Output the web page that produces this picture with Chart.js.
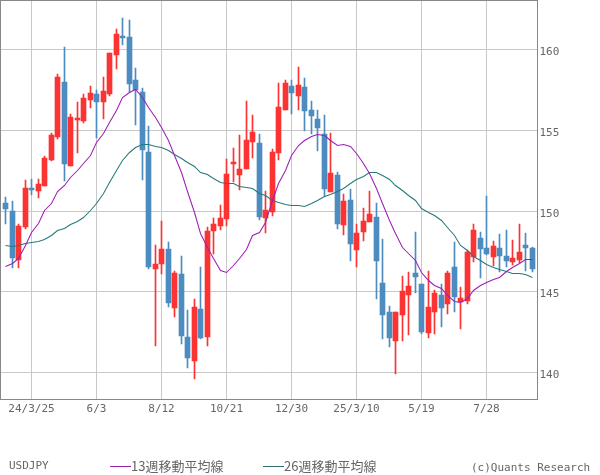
<!DOCTYPE html>
<html>
<head>
<meta charset="utf-8">
<script src="https://cdn.jsdelivr.net/npm/chart.js@4"></script>
<style>
  html, body { margin: 0; padding: 0; background: #fff; }
  #wrap { position: relative; width: 600px; height: 475px; overflow: hidden; }
  .note { position: absolute; color: #666; white-space: nowrap; font: 11px "DejaVu Sans Mono", monospace; line-height: 14px; }
  .jp { font: 13px "Noto Sans CJK JP", sans-serif; line-height: 16px; }
  .swatch { position: absolute; height: 1px; width: 21px; top: 466px; }
</style>
</head>
<body>
<div id="wrap">
  <canvas id="chart" width="600" height="475"></canvas>
  <span class="note" style="left:9px;top:459px">USDJPY</span>
  <div class="swatch" style="left:110px;background:#8e24aa"></div>
  <span class="note jp" style="left:131px;top:458px">13週移動平均線</span>
  <div class="swatch" style="left:263px;background:#2f6f6f"></div>
  <span class="note jp" style="left:284px;top:458px">26週移動平均線</span>
  <span class="note" style="left:471px;top:461px">(c)Quants Research</span>
</div>
<script>
// ===== DATA =====
const opens = [150.50,150.00,146.97,149.01,151.42,151.24,151.55,153.16,154.58,157.99,152.79,155.63,155.57,156.87,157.24,156.75,157.24,159.66,160.84,160.77,158.11,157.37,153.65,146.41,146.72,147.65,143.99,146.10,142.20,140.71,143.93,142.20,148.76,149.07,149.50,152.91,152.23,152.60,154.27,154.21,149.57,149.94,153.59,156.25,157.74,157.12,157.68,156.25,155.70,154.77,151.18,152.23,149.13,150.68,147.59,148.70,149.32,149.63,145.54,143.75,141.95,143.56,144.80,146.16,145.48,142.45,143.75,144.80,144.24,146.53,144.37,144.43,147.15,148.33,147.71,147.15,147.71,147.21,146.84,146.97,147.89,147.71];
const closes = [150.12,147.09,149.07,151.42,151.30,151.67,153.28,154.71,158.30,152.91,155.82,155.76,157.00,157.31,156.75,157.43,159.78,160.96,160.71,157.86,157.49,153.78,146.53,146.72,147.65,144.30,146.16,142.26,140.90,144.06,142.14,148.76,149.20,149.57,152.29,153.03,152.60,154.40,154.89,149.63,150.06,153.65,156.44,157.93,157.31,157.80,156.19,155.88,155.14,151.36,152.35,149.20,150.62,147.96,148.64,149.38,149.81,146.90,143.56,142.14,143.75,145.05,145.36,145.91,142.51,144.06,144.92,143.99,146.16,144.68,144.61,147.46,148.82,147.65,147.34,147.83,147.21,146.90,147.09,147.46,147.71,146.41];
const highs = [150.87,150.62,149.20,151.92,151.98,151.98,153.41,154.83,158.48,160.16,156.01,156.75,157.24,157.74,157.49,158.30,159.78,161.27,161.95,161.83,158.85,157.62,155.26,147.89,149.38,148.08,146.29,147.21,143.87,144.55,146.53,149.01,149.57,150.37,153.22,153.90,154.71,156.81,155.94,154.77,151.24,153.84,157.93,158.11,158.11,158.92,158.24,156.81,156.25,155.94,154.83,152.42,151.05,151.36,149.20,150.19,151.24,150.50,148.27,144.12,143.75,145.98,146.22,148.70,145.48,146.29,145.11,145.48,146.29,148.08,145.29,147.59,149.20,148.70,150.93,148.14,148.58,148.82,148.20,149.20,148.64,147.77];
const lows = [149.20,146.47,146.47,148.89,150.99,150.81,151.55,153.10,154.46,151.86,152.79,153.59,155.45,156.38,154.52,155.70,157.12,158.79,160.28,157.37,155.33,151.92,146.41,141.64,146.10,144.06,143.44,141.76,140.28,139.60,142.07,141.64,147.34,148.82,149.07,151.80,151.30,152.60,153.28,149.44,148.64,149.69,153.16,156.25,156.01,156.25,154.95,154.77,153.72,150.93,151.18,148.89,148.51,146.90,146.53,148.14,149.32,144.55,142.07,141.58,139.91,141.95,142.32,144.92,142.38,142.14,142.38,142.82,143.62,143.75,142.69,144.24,146.84,145.85,147.28,146.59,146.22,146.53,146.66,146.78,146.29,146.22];
const ma13 = [146.55,146.78,147.09,147.89,148.70,149.26,150.06,150.50,151.24,151.61,152.11,152.54,152.97,153.47,154.27,154.83,155.51,156.25,157.06,157.37,157.55,157.06,156.44,155.82,155.20,154.40,153.47,152.42,151.24,149.94,148.64,147.77,147.09,146.35,146.22,146.66,147.09,147.65,148.51,148.70,149.32,150.68,151.73,152.54,153.47,154.09,154.40,154.64,154.77,154.71,154.40,154.09,154.15,154.02,153.59,152.97,152.35,151.42,150.50,149.44,148.64,147.77,147.40,146.97,146.22,145.73,145.42,145.23,144.80,144.43,144.37,144.61,145.11,145.42,145.60,145.79,145.91,146.29,146.53,146.78,147.03,147.03];
const ma26 = [147.89,147.83,147.89,148.02,148.08,148.14,148.27,148.51,148.82,148.95,149.20,149.38,149.63,150.06,150.50,151.11,151.80,152.54,153.16,153.65,153.96,154.15,154.15,154.02,153.96,153.78,153.53,153.28,153.03,152.79,152.42,152.29,152.04,151.80,151.73,151.73,151.55,151.49,151.42,151.11,150.99,150.68,150.56,150.43,150.37,150.37,150.31,150.50,150.68,150.93,151.05,151.24,151.42,151.73,151.98,152.17,152.42,152.42,152.23,151.98,151.61,151.30,150.99,150.68,150.19,149.94,149.75,149.44,149.01,148.51,147.89,147.59,147.21,146.97,146.72,146.53,146.41,146.29,146.16,146.16,146.10,145.91];
const xTickWeeks = [4, 14, 24, 34, 44, 54, 64, 74];
const xTickLabels = ['24/3/25', '6/3', '8/12', '10/21', '12/30', '25/3/10', '5/19', '7/28'];
const yTicks = [140, 145, 150, 155, 160];

const RED = '#fb3333';
const BLUE = '#4c8cc0';
const Y_MIN = 138.328;
const Y_MAX = 163.034;

// Snap scale pixels to whole device pixels so the candles stay crisp
class SnapX extends Chart.LinearScale {
    getPixelForValue(v) { return Math.floor(super.getPixelForValue(v)) + 0.5; }
}
SnapX.id = 'snapX';
SnapX.defaults = Chart.LinearScale.defaults;
class SnapY extends Chart.LinearScale {
    getPixelForValue(v) { return Math.floor(super.getPixelForValue(v) + 0.1); }
}
SnapY.id = 'snapY';
SnapY.defaults = Chart.LinearScale.defaults;
// the moving averages sit on pixel centres instead of pixel edges
class SnapLineY extends Chart.LinearScale {
    getPixelForValue(v) { return Math.floor(super.getPixelForValue(v) + 0.1) + 0.5; }
}
SnapLineY.id = 'snapLineY';
SnapLineY.defaults = Chart.LinearScale.defaults;
Chart.register(SnapX, SnapY, SnapLineY);

const candleColors = opens.map((o, i) => closes[i] >= o ? RED : BLUE);

// Grey frame around the plot area
const framePlugin = {
    id: 'frame',
    afterDraw(chart) {
        const a = chart.chartArea;
        const ctx = chart.ctx;
        ctx.save();
        ctx.strokeStyle = '#888888';
        ctx.lineWidth = 1;
        ctx.strokeRect(a.left, a.top, a.right - a.left, a.bottom - a.top);
        ctx.restore();
    }
};

const tickFont = { family: '"DejaVu Sans Mono", monospace', size: 11 };

new Chart(document.getElementById('chart'), {
    type: 'bar',
    data: {
        datasets: [
            {
                type: 'line',
                label: '13週移動平均線',
                data: ma13.map((v, i) => ({ x: i, y: v })),
                yAxisID: 'yLine',
                borderColor: '#9c1fb4',
                borderWidth: 1.05,
                pointRadius: 0,
                tension: 0,
                order: 0
            },
            {
                type: 'line',
                label: '26週移動平均線',
                data: ma26.map((v, i) => ({ x: i, y: v })),
                yAxisID: 'yLine',
                borderColor: '#26797a',
                borderWidth: 1.05,
                pointRadius: 0,
                tension: 0,
                order: 0
            },
            {
                label: 'body',
                data: opens.map((o, i) => ({ x: i, y: [o, closes[i]] })),
                backgroundColor: candleColors,
                barThickness: 5,
                grouped: false,
                order: 1
            },
            {
                label: 'wick',
                data: lows.map((l, i) => ({ x: i, y: [l, highs[i]] })),
                backgroundColor: candleColors,
                barThickness: 1,
                grouped: false,
                order: 2
            }
        ]
    },
    options: {
        responsive: false,
        animation: false,
        devicePixelRatio: 1,
        layout: { padding: { left: 0.5, top: 0.5 } },
        plugins: { legend: { display: false }, tooltip: { enabled: false } },
        scales: {
            x: {
                type: 'snapX',
                offset: false,
                min: -0.8154,
                max: 81.8,
                grid: { color: '#c8c8c8', drawTicks: false, offset: false },
                border: { display: false },
                afterBuildTicks(scale) { scale.ticks = xTickWeeks.map(v => ({ value: v })); },
                afterFit(scale) {
                    scale.height = 75.5;
                    scale.paddingLeft = 0;
                    scale.paddingRight = 0;
                },
                ticks: {
                    autoSkip: false,
                    maxRotation: 0,
                    padding: 3,
                    color: '#666666',
                    font: tickFont,
                    callback: v => xTickLabels[xTickWeeks.indexOf(v)]
                }
            },
            y: {
                type: 'snapY',
                position: 'right',
                min: Y_MIN,
                max: Y_MAX,
                grid: { color: '#c8c8c8', drawTicks: false },
                border: { display: false },
                afterBuildTicks(scale) { scale.ticks = yTicks.map(v => ({ value: v })); },
                afterFit(scale) {
                    scale.width = 62.5;
                    scale.paddingTop = 0;
                    scale.paddingBottom = 0;
                },
                ticks: {
                    padding: 2,
                    labelOffset: 3,
                    color: '#666666',
                    font: tickFont,
                    callback: v => String(v)
                }
            },
            yLine: {
                type: 'snapLineY',
                display: false,
                min: Y_MIN,
                max: Y_MAX
            }
        }
    },
    plugins: [framePlugin]
});
</script>
</body>
</html>
